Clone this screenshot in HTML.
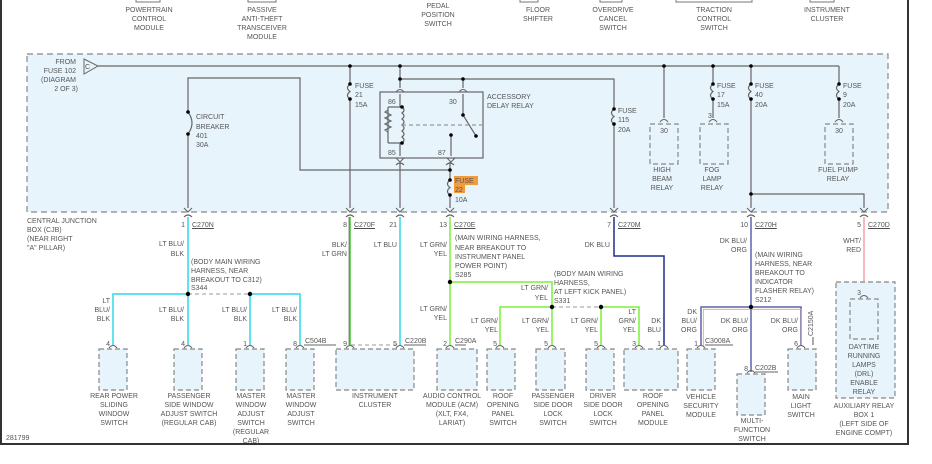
<!DOCTYPE html>
<html><head><style>
body{margin:0;background:#fff}
svg text{font-family:"Liberation Sans",sans-serif;font-size:7px;fill:#555}
</style></head><body>
<svg width="932" height="459" viewBox="0 0 932 459" xmlns="http://www.w3.org/2000/svg">
<rect x="0" y="0" width="932" height="459" fill="#fff"/>
<!-- frame -->
<line x1="1" y1="0" x2="1" y2="444" stroke="#333" stroke-width="2"/>
<line x1="908" y1="0" x2="908" y2="444" stroke="#333" stroke-width="2"/>
<line x1="0" y1="444" x2="909" y2="444" stroke="#333" stroke-width="2"/>
<!-- top labels -->
<g text-anchor="middle">
<path d="M136 0v2h24v-2M248 0v2h28v-2M520 0v2h18v-2M600 0v2h22v-2M676 0v2h76v-2M810 0v2h24v-2" stroke="#777" fill="none"/>
<text x="149" y="12">POWERTRAIN</text><text x="149" y="21">CONTROL</text><text x="149" y="30">MODULE</text>
<text x="262" y="12">PASSIVE</text><text x="262" y="21">ANTI-THEFT</text><text x="262" y="30">TRANSCEIVER</text><text x="262" y="39">MODULE</text>
<text x="438" y="8">PEDAL</text><text x="438" y="17">POSITION</text><text x="438" y="26">SWITCH</text>
<text x="538" y="12">FLOOR</text><text x="538" y="21">SHIFTER</text>
<text x="613" y="12">OVERDRIVE</text><text x="613" y="21">CANCEL</text><text x="613" y="30">SWITCH</text>
<text x="714" y="12">TRACTION</text><text x="714" y="21">CONTROL</text><text x="714" y="30">SWITCH</text>
<text x="827" y="12">INSTRUMENT</text><text x="827" y="21">CLUSTER</text>
</g>
<!-- CJB box -->
<rect x="27" y="54" width="861" height="158" fill="#e8f4fc" stroke="#888" stroke-width="1.2" stroke-dasharray="6,4"/>
<g text-anchor="end"><text x="76" y="64">FROM</text><text x="76" y="73">FUSE 102</text><text x="76" y="82">(DIAGRAM</text><text x="78" y="91">2 OF 3)</text></g>
<path d="M84 59L98 66L84 74Z" fill="#e8f4fc" stroke="#666"/>
<text x="85" y="69">C</text>
<g stroke="#666" stroke-width="1.2" fill="none">
<path d="M98 66H839"/>
<path d="M188 208V78H300V170H450"/>
<path d="M350 66V208"/>
<path d="M400 66V88M400 79H614V208M463 79V88"/>
<path d="M400 162V208"/>
<path d="M450 162V208"/>
<path d="M664 66V118M713 66V118M751 66V208M751 194H864V208M839 66V118"/>
<rect x="380" y="92" width="103" height="66" fill="#e8f4fc"/>
<path d="M400 94V107M400 143V156M388 107H402M388 143H402M388 107V143"/>
<path d="M388 110l-3 2l6 3l-6 3l6 3l-6 3l6 3l-6 3l3 2" />
<path d="M402 107q4 3 0 6q4 3 0 6q4 3 0 6q4 3 0 6q4 3 0 6q4 3 0 6"/>
<path d="M463 94V115L476 136M451 135V156"/>
<path d="M402 125H483" stroke-dasharray="4,3" stroke="#999"/>
</g>
<!-- fuse arcs and dots -->
<g fill="#fff" stroke="#666" stroke-width="1.2">
<rect x="184" y="112" width="8" height="22" fill="#e8f4fc" stroke="none"/>
<path d="M188 112q8 11 0 22" fill="none"/>
<rect x="346" y="84" width="8" height="15" fill="#e8f4fc" stroke="none"/><path d="M350 84q-5 4 0 7.5q-5 4 0 7.5" fill="none"/>
<rect x="610" y="109" width="8" height="15" fill="#e8f4fc" stroke="none"/><path d="M614 109q-5 4 0 7.5q-5 4 0 7.5" fill="none"/>
<rect x="709" y="84" width="8" height="15" fill="#e8f4fc" stroke="none"/><path d="M713 84q-5 4 0 7.5q-5 4 0 7.5" fill="none"/>
<rect x="747" y="84" width="8" height="15" fill="#e8f4fc" stroke="none"/><path d="M751 84q-5 4 0 7.5q-5 4 0 7.5" fill="none"/>
<rect x="835" y="84" width="8" height="15" fill="#e8f4fc" stroke="none"/><path d="M839 84q-5 4 0 7.5q-5 4 0 7.5" fill="none"/>
<rect x="446" y="180" width="8" height="15" fill="#e8f4fc" stroke="none"/><path d="M450 180q-5 4 0 7.5q-5 4 0 7.5" fill="none"/>
</g>
<g fill="#000">
<circle cx="188" cy="112" r="1.8"/><circle cx="188" cy="134" r="1.8"/>
<circle cx="350" cy="66" r="1.8"/><circle cx="350" cy="84" r="1.8"/><circle cx="350" cy="99" r="1.8"/>
<circle cx="400" cy="66" r="1.8"/><circle cx="400" cy="79" r="1.8"/><circle cx="463" cy="79" r="1.8"/>
<circle cx="402" cy="107" r="1.8"/><circle cx="402" cy="143" r="1.8"/><circle cx="463" cy="115" r="1.8"/><circle cx="476" cy="136" r="1.8"/><circle cx="451" cy="135" r="1.8"/>
<circle cx="450" cy="170" r="1.8"/><circle cx="450" cy="180" r="1.8"/><circle cx="450" cy="195" r="1.8"/>
<circle cx="614" cy="109" r="1.8"/><circle cx="614" cy="124" r="1.8"/>
<circle cx="664" cy="66" r="1.8"/><circle cx="713" cy="66" r="1.8"/><circle cx="713" cy="84" r="1.8"/><circle cx="713" cy="99" r="1.8"/>
<circle cx="751" cy="66" r="1.8"/><circle cx="751" cy="84" r="1.8"/><circle cx="751" cy="99" r="1.8"/><circle cx="751" cy="194" r="1.8"/>
<circle cx="839" cy="84" r="1.8"/><circle cx="839" cy="99" r="1.8"/>
</g>
<!-- relay boxes -->
<g fill="#e8f4fc" stroke="#888" stroke-width="1.2" stroke-dasharray="5,3">
<rect x="650" y="124" width="28" height="40"/><rect x="700" y="124" width="28" height="40"/><rect x="825" y="124" width="28" height="40"/>
</g>
<g stroke="#666" fill="none" stroke-width="1.1">
<path d="M660 122q4-5 8 0M709 122q4-5 8 0M835 122q4-5 8 0"/>
<path d="M396 92q4 -5 8 0M459 92q4-5 8 0M396 158l4 4l4-4M447 158l4 4l4-4M396 165q4-4 8 0M446 165q4-4 8 0"/>
<path d="M184 208l4 4l4-4M346 208l4 4l4-4M396 208l4 4l4-4M446 208l4 4l4-4M610 208l4 4l4-4M747 208l4 4l4-4M860 208l4 4l4-4"/>
<path d="M184 217q4-4 8 0M346 217q4-4 8 0M396 217q4-4 8 0M446 217q4-4 8 0M610 217q4-4 8 0M747 217q4-4 8 0M860 217q4-4 8 0"/>
</g>
<text x="196" y="119">CIRCUIT</text><text x="196" y="129">BREAKER</text><text x="196" y="138">401</text><text x="196" y="147">30A</text>
<text x="355" y="88">FUSE</text><text x="355" y="97">21</text><text x="355" y="107">15A</text>
<text x="388" y="104">86</text><text x="388" y="155">85</text><text x="449" y="104">30</text><text x="438" y="155">87</text>
<text x="487" y="99">ACCESSORY</text><text x="487" y="108">DELAY RELAY</text>
<rect x="454" y="176" width="24" height="9" fill="#f39a3a"/><rect x="454" y="185" width="11" height="8" fill="#f39a3a"/>
<text x="455" y="183" fill="#333">FUSE</text><text x="455" y="192" fill="#333">22</text><text x="455" y="202">10A</text>
<text x="618" y="113">FUSE</text><text x="618" y="122">115</text><text x="618" y="132">20A</text>
<text x="717" y="88">FUSE</text><text x="717" y="97">17</text><text x="717" y="107">15A</text>
<text x="755" y="88">FUSE</text><text x="755" y="97">40</text><text x="755" y="107">20A</text>
<text x="843" y="88">FUSE</text><text x="843" y="97">9</text><text x="843" y="107">20A</text>
<g text-anchor="middle">
<text x="664" y="133">30</text><text x="839" y="133">30</text><text x="710" y="118">3</text>
<text x="662" y="172">HIGH</text><text x="662" y="181">BEAM</text><text x="662" y="190">RELAY</text>
<text x="712" y="172">FOG</text><text x="712" y="181">LAMP</text><text x="712" y="190">RELAY</text>
<text x="838" y="172">FUEL PUMP</text><text x="838" y="181">RELAY</text>
</g>
<text x="27" y="223">CENTRAL JUNCTION</text><text x="27" y="232">BOX (CJB)</text><text x="27" y="241">(NEAR RIGHT</text><text x="27" y="250">"A" PILLAR)</text>
<!-- connector labels -->
<g text-decoration="underline">
<text x="192" y="227">C270N</text><text x="354" y="227">C270F</text><text x="454" y="227">C270E</text><text x="618" y="227">C270M</text><text x="755" y="227">C270H</text><text x="868" y="227">C270D</text>
</g>
<g text-anchor="end"><text x="185" y="227">1</text><text x="347" y="227">8</text><text x="397" y="227">21</text><text x="447" y="227">13</text><text x="611" y="227">7</text><text x="748" y="227">10</text><text x="861" y="227">5</text></g>
<!-- lower wires -->
<g fill="none" stroke-width="1.5">
<path d="M188 217V294M113 345V294H188V345M250 345V294H300V345" stroke="#2ed8e8"/>
<path d="M188 294H250" stroke="#999" stroke-dasharray="4,3" stroke-width="1"/>
<path d="M400 217V345" stroke="#2ed8e8"/>
<path d="M350 217V345" stroke="#43c72e"/>
<path d="M350 217V345" stroke="#222" stroke-width="0.5" transform="translate(-1 0)"/>
<path d="M450 217V345M450 282H552V345M500 345V307H552M601 345V307H639V345" stroke="#7af03a"/>
<path d="M552 307H601" stroke="#999" stroke-dasharray="4,3" stroke-width="1"/>
<path d="M614 217V256H664V345" stroke="#1d2f8f"/>
<path d="M864 217V295" stroke="#f5a0a8"/>
<path d="M751 217V372M701 345V307H801V345" stroke="#5a64b0"/>
<path d="M702 345V308H800V345" stroke="#f0a050" stroke-width="0.8" transform="translate(1.3 1.3)"/>
</g>
<path d="M351 345H400" stroke="#999" stroke-dasharray="4,3"/>
<g fill="#000"><circle cx="188" cy="294" r="2.2"/><circle cx="250" cy="294" r="2.2"/><circle cx="450" cy="282" r="2.2"/><circle cx="552" cy="307" r="2.2"/><circle cx="601" cy="307" r="2.2"/><circle cx="751" cy="307" r="2.2"/></g>
<!-- lower boxes -->
<g fill="#e8f4fc" stroke="#888" stroke-width="1.2" stroke-dasharray="5,3">
<rect x="99" y="349" width="28" height="41"/><rect x="174" y="349" width="28" height="41"/><rect x="236" y="349" width="28" height="41"/><rect x="286" y="349" width="28" height="41"/>
<rect x="336" y="349" width="78" height="41"/><rect x="437" y="349" width="40" height="41"/>
<rect x="487" y="349" width="28" height="41"/><rect x="536" y="349" width="29" height="41"/><rect x="586" y="349" width="28" height="41"/><rect x="624" y="349" width="54" height="41"/>
<rect x="687" y="349" width="28" height="41"/><rect x="737" y="374" width="28" height="41"/><rect x="788" y="349" width="28" height="41"/>
<rect x="836" y="282" width="59" height="116"/><rect x="850" y="299" width="28" height="40"/>
</g>
<g stroke="#666" fill="none" stroke-width="1.1">
<path d="M109 348q4-5 8 0M184 348q4-5 8 0M246 348q4-5 8 0M296 348q4-5 8 0M346 348q4-5 8 0M396 348q4-5 8 0M446 348q4-5 8 0M496 348q4-5 8 0M548 348q4-5 8 0M597 348q4-5 8 0M635 348q4-5 8 0M660 348q4-5 8 0M697 348q4-5 8 0M747 373q4-5 8 0M797 348q4-5 8 0M860 298q4-5 8 0"/>
<path d="M304 345H336M404 345H426M455 345H466M705 345H733M755 372H778M813 337V345"/>
</g>
<!-- pin numbers -->
<g text-anchor="end">
<text x="110" y="346">4</text><text x="185" y="346">4</text><text x="247" y="346">1</text><text x="297" y="346">8</text><text x="347" y="346">9</text><text x="397" y="346">5</text><text x="447" y="346">2</text>
<text x="497" y="346">5</text><text x="548" y="346">5</text><text x="598" y="346">5</text><text x="636" y="346">3</text><text x="661" y="346">1</text><text x="698" y="346">1</text><text x="748" y="371">8</text><text x="798" y="346">6</text><text x="861" y="295">3</text>
</g>
<text x="305" y="343">C504B</text><text x="405" y="343">C220B</text><text x="455" y="343">C290A</text><text x="705" y="343">C3008A</text><text x="755" y="370">C202B</text>
<text transform="translate(813 336) rotate(-90)">C2150A</text>
<!-- wire labels -->
<g text-anchor="end">
<text x="184" y="246">LT BLU/</text><text x="184" y="256">BLK</text>
<text x="110" y="303">LT</text><text x="110" y="312">BLU/</text><text x="110" y="321">BLK</text>
<text x="184" y="312">LT BLU/</text><text x="184" y="321">BLK</text>
<text x="247" y="312">LT BLU/</text><text x="247" y="321">BLK</text>
<text x="297" y="312">LT BLU/</text><text x="297" y="321">BLK</text>
<text x="347" y="247">BLK/</text><text x="347" y="256">LT GRN</text>
<text x="397" y="247">LT BLU</text>
<text x="447" y="247">LT GRN/</text><text x="447" y="256">YEL</text>
<text x="447" y="311">LT GRN/</text><text x="447" y="320">YEL</text>
<text x="548" y="290">LT GRN/</text><text x="548" y="300">YEL</text>
<text x="498" y="323">LT GRN/</text><text x="498" y="332">YEL</text>
<text x="549" y="323">LT GRN/</text><text x="549" y="332">YEL</text>
<text x="598" y="323">LT GRN/</text><text x="598" y="332">YEL</text>
<text x="636" y="314">LT</text><text x="636" y="323">GRN/</text><text x="636" y="332">YEL</text>
<text x="661" y="323">DK</text><text x="661" y="332">BLU</text>
<text x="610" y="247">DK BLU</text>
<text x="747" y="243">DK BLU/</text><text x="747" y="252">ORG</text>
<text x="697" y="314">DK</text><text x="697" y="323">BLU/</text><text x="697" y="332">ORG</text>
<text x="748" y="323">DK BLU/</text><text x="748" y="332">ORG</text>
<text x="798" y="323">DK BLU/</text><text x="798" y="332">ORG</text>
<text x="861" y="243">WHT/</text><text x="861" y="252">RED</text>
</g>
<text x="191" y="264">(BODY MAIN WIRING</text><text x="191" y="273">HARNESS, NEAR</text><text x="191" y="282">BREAKOUT TO C312)</text><text x="191" y="290">S344</text>
<text x="455" y="240">(MAIN WIRING HARNESS,</text><text x="455" y="250">NEAR BREAKOUT TO</text><text x="455" y="259">INSTRUMENT PANEL</text><text x="455" y="268">POWER POINT)</text><text x="455" y="277">S285</text>
<text x="554" y="276">(BODY MAIN WIRING</text><text x="554" y="285">HARNESS,</text><text x="554" y="294">AT LEFT KICK PANEL)</text><text x="554" y="303">S331</text>
<text x="755" y="257">(MAIN WIRING</text><text x="755" y="266">HARNESS, NEAR</text><text x="755" y="275">BREAKOUT TO</text><text x="755" y="284">INDICATOR</text><text x="755" y="293">FLASHER RELAY)</text><text x="755" y="302">S212</text>
<!-- box labels -->
<g text-anchor="middle">
<text x="114" y="398">REAR POWER</text><text x="114" y="407">SLIDING</text><text x="114" y="416">WINDOW</text><text x="114" y="425">SWITCH</text>
<text x="189" y="398">PASSENGER</text><text x="189" y="407">SIDE WINDOW</text><text x="189" y="416">ADJUST SWITCH</text><text x="189" y="425">(REGULAR CAB)</text>
<text x="251" y="398">MASTER</text><text x="251" y="407">WINDOW</text><text x="251" y="416">ADJUST</text><text x="251" y="425">SWITCH</text><text x="251" y="434">(REGULAR</text><text x="251" y="443">CAB)</text>
<text x="301" y="398">MASTER</text><text x="301" y="407">WINDOW</text><text x="301" y="416">ADJUST</text><text x="301" y="425">SWITCH</text>
<text x="375" y="398">INSTRUMENT</text><text x="375" y="407">CLUSTER</text>
<text x="452" y="398">AUDIO CONTROL</text><text x="452" y="407">MODULE (ACM)</text><text x="452" y="416">(XLT, FX4,</text><text x="452" y="425">LARIAT)</text>
<text x="503" y="398">ROOF</text><text x="503" y="407">OPENING</text><text x="503" y="416">PANEL</text><text x="503" y="425">SWITCH</text>
<text x="553" y="398">PASSENGER</text><text x="553" y="407">SIDE DOOR</text><text x="553" y="416">LOCK</text><text x="553" y="425">SWITCH</text>
<text x="603" y="398">DRIVER</text><text x="603" y="407">SIDE DOOR</text><text x="603" y="416">LOCK</text><text x="603" y="425">SWITCH</text>
<text x="653" y="398">ROOF</text><text x="653" y="407">OPENING</text><text x="653" y="416">PANEL</text><text x="653" y="425">MODULE</text>
<text x="701" y="399">VEHICLE</text><text x="701" y="408">SECURITY</text><text x="701" y="417">MODULE</text>
<text x="752" y="423">MULTI-</text><text x="752" y="432">FUNCTION</text><text x="752" y="441">SWITCH</text>
<text x="801" y="399">MAIN</text><text x="801" y="408">LIGHT</text><text x="801" y="417">SWITCH</text>
<text x="864" y="349">DAYTIME</text><text x="864" y="358">RUNNING</text><text x="864" y="367">LAMPS</text><text x="864" y="376">(DRL)</text><text x="864" y="385">ENABLE</text><text x="864" y="394">RELAY</text>
<text x="864" y="408">AUXILIARY RELAY</text><text x="864" y="417">BOX 1</text><text x="864" y="426">(LEFT SIDE OF</text><text x="864" y="435">ENGINE COMPT)</text>
</g>
<text x="6" y="440">281799</text>
</svg>
</body></html>
